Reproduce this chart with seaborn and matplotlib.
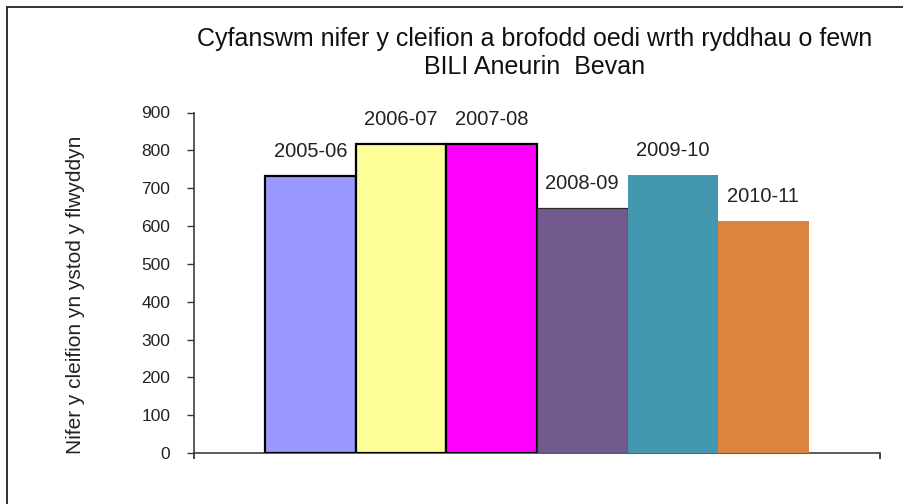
import matplotlib
matplotlib.use("Agg")
import matplotlib.pyplot as plt
from matplotlib.lines import Line2D
import seaborn as sns
import pandas as pd

# Data
periods = ["2005-06", "2006-07", "2007-08", "2008-09", "2009-10", "2010-11"]
patients = [732, 818, 818, 648, 735, 614]
bar_colors = ["#9999FF", "#FFFF99", "#FF00FF", "#72598E", "#4398B0", "#DC843F"]
edge_colors = ["#000000", "#000000", "#000000", "#2B2B2B", "none", "none"]
edge_widths = [1.6, 1.6, 1.6, 0.9, 0, 0]
y_ticks = [0, 100, 200, 300, 400, 500, 600, 700, 800, 900]

title_text = "Cyfanswm nifer y cleifion a brofodd oedi wrth ryddhau o fewn\nBILI Aneurin  Bevan"
ylabel_text = "Nifer y cleifion yn ystod y flwyddyn"

sns.set_style("white")
plt.rcParams["font.family"] = ["Liberation Sans", "DejaVu Sans"]

W, H = 904, 504
fig = plt.figure(figsize=(W / 100, H / 100), dpi=100)
ax = fig.add_axes([194 / W, 1 - 453 / H, (880 - 194) / W, (453 - 112.5) / H])

df = pd.DataFrame({"period": periods, "patients": patients})
sns.barplot(data=df, x="period", y="patients", hue="period",
            palette=dict(zip(periods, bar_colors)), width=1.0,
            legend=False, saturation=1, ax=ax, zorder=3)

# per-bar outlines and category labels above each bar
for patch in ax.patches:
    i = int(round(patch.get_x() + patch.get_width() / 2))
    patch.set_edgecolor(edge_colors[i])
    patch.set_linewidth(edge_widths[i])
    ax.annotate(periods[i], (i, patients[i]), xytext=(0, 10.5),
                textcoords="offset points", ha="center", va="bottom",
                fontsize=14.5, color="#222222")

ax.set_xlim(-1.29, 6.29)
ax.set_ylim(0, 900)
ax.set_yticks(y_ticks)
ax.set_yticklabels([str(v) for v in y_ticks], fontsize=12.5, color="#222222")
ax.set_xticks([-1.29, 6.29])
ax.set_xticklabels(["", ""])
ax.tick_params(axis="y", direction="out", length=5, width=1, color="#333333",
               pad=12, left=True)
ax.tick_params(axis="x", direction="out", length=4.5, width=1.3,
               color="#333333", bottom=True)
ax.set_xlabel("")
ax.set_ylabel("")
for side in ["top", "right"]:
    ax.spines[side].set_visible(False)
for side in ["left", "bottom"]:
    ax.spines[side].set_color("#404040")
    ax.spines[side].set_linewidth(1.2)

fig.text(535 / W, 1 - 53 / H, title_text, ha="center", va="center",
         fontsize=18, color="#111111", linespacing=1.2)
fig.text(76 / W, 1 - 295 / H, ylabel_text, ha="center", va="center",
         rotation=90, fontsize=15, color="#222222")

# chart-area border
fig.add_artist(Line2D([7 / W, 1.01], [1 - 7 / H, 1 - 7 / H],
                      transform=fig.transFigure, color="#222222", lw=1.3))
fig.add_artist(Line2D([7 / W, 7 / W], [1 - 7 / H, -0.01],
                      transform=fig.transFigure, color="#222222", lw=1.3))

fig.savefig("out.png", dpi=100)
